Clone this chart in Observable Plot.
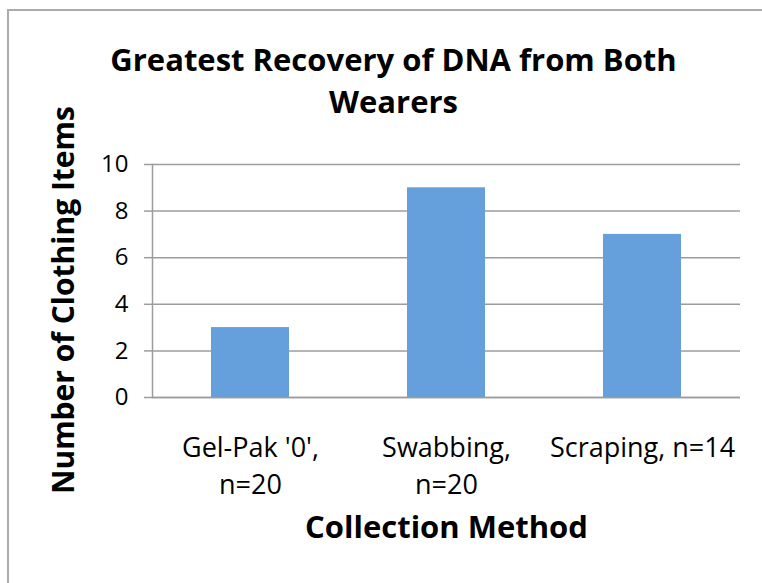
<!DOCTYPE html>
<html>
<head>
<meta charset="utf-8">
<script src="https://cdn.jsdelivr.net/npm/d3@7"></script>
<script src="https://cdn.jsdelivr.net/npm/@observablehq/plot@0.6"></script>
<style>
  html, body { margin: 0; padding: 0; background: #fff; width: 762px; height: 583px; overflow: hidden; }
  #frame { position: absolute; left: 7px; top: 9px; right: -10px; bottom: -10px; border: 2px solid #ababab; }
  #chart { position: absolute; left: 0; top: 0; }
</style>
</head>
<body>
<div id="frame"></div>
<div id="chart"></div>
<script>
const categories = ["Gel-Pak '0', n=20", "Swabbing, n=20", "Scraping, n=14"];
const tickLabels = ["Gel-Pak '0',\nn=20", "Swabbing,\nn=20", "Scraping, n=14"];
const values = [3, 9, 7];
const yTicks = [0, 2, 4, 6, 8, 10];
const titleText = "Greatest Recovery of DNA from Both\nWearers";
const xTitle = "Collection Method";
const yTitle = "Number of Clothing Items";

const data = categories.map((c, i) => ({category: c, value: values[i]}));
const labelOf = new Map(categories.map((c, i) => [c, tickLabels[i]]));
const font = "'Open Sans', Lato, sans-serif";
const grey = "#9c9c9c";

const chart = Plot.plot({
  width: 762,
  height: 583,
  marginLeft: 152,
  marginRight: 22,
  marginTop: 164,
  marginBottom: 186,
  style: {fontFamily: font, background: "transparent", color: "#000"},
  x: {domain: categories, paddingInner: 0.6, paddingOuter: 0.3, axis: null},
  y: {domain: [0, 10], axis: null},
  marks: [
    Plot.gridY(yTicks, {stroke: grey, strokeOpacity: 1, strokeWidth: 1.5}),
    Plot.axisY({ticks: yTicks, tickSize: 8, tickPadding: 16, stroke: grey, strokeWidth: 1.5, fontSize: 24, label: null, tickFormat: d => String(d)}),
    Plot.frame({anchor: "left", stroke: grey, strokeWidth: 1.5}),
    Plot.barY(data, {x: "category", y: "value", fill: "#659fdc"}),
    Plot.ruleY([0], {stroke: grey, strokeWidth: 1.5}),
    Plot.axisX({tickSize: 0, tickPadding: 33, fontSize: 27, lineHeight: 1.38, label: null, tickFormat: d => labelOf.get(d)}),
    Plot.text([xTitle], {frameAnchor: "bottom", lineAnchor: "middle", dy: 131, fontSize: 31, fontWeight: "bold", fill: "#000"}),
    Plot.text([yTitle], {frameAnchor: "left", textAnchor: "middle", lineAnchor: "middle", rotate: -90, dx: -88, dy: 19, fontSize: 30, fontWeight: "bold", fill: "#000"}),
    Plot.text([titleText], {frameAnchor: "top", textAnchor: "middle", lineAnchor: "top", dx: -53, dy: -123, fontSize: 31, fontWeight: "bold", lineHeight: 1.35, fill: "#000"})
  ]
});
document.getElementById("chart").appendChild(chart);
</script>
</body>
</html>
